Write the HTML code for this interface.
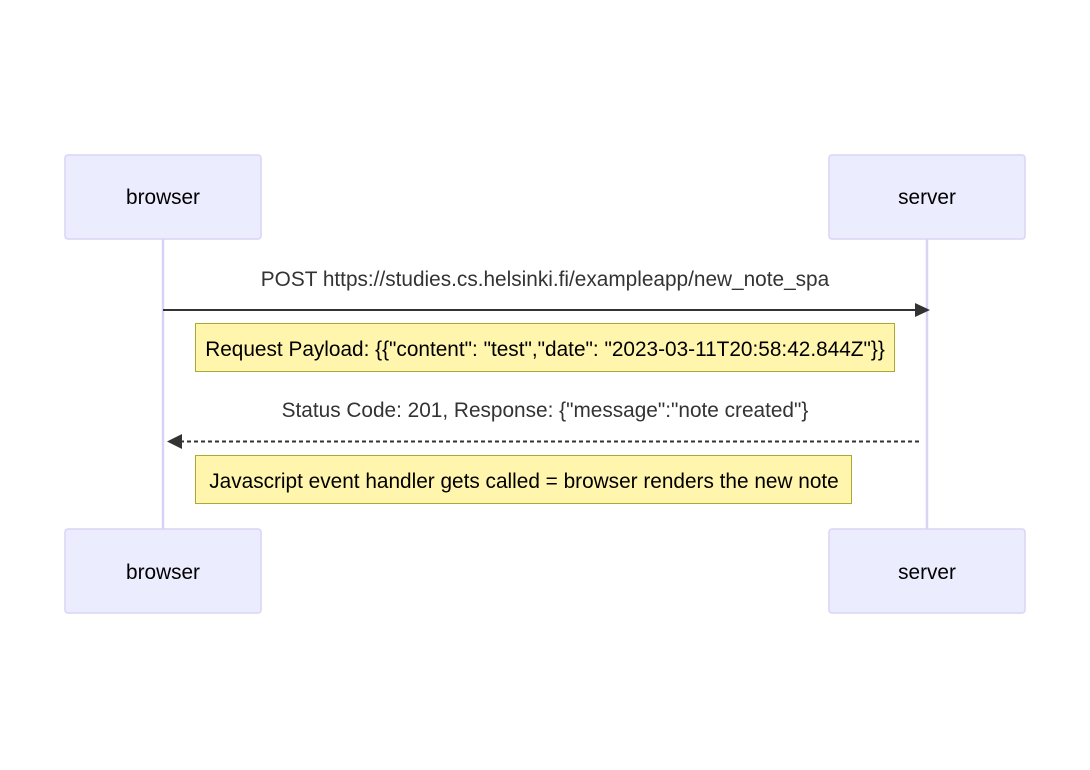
<!DOCTYPE html>
<html><head><style>html,body{margin:0;padding:0;background:#fff;}svg{display:block}</style></head>
<body>
<svg width="1090" height="770" viewBox="0 0 1090 770" xmlns="http://www.w3.org/2000/svg" font-family="Liberation Sans, Arial, sans-serif">
<line x1="163" y1="239" x2="163" y2="529" stroke="#d9d4f5" stroke-width="2.5"/>
<line x1="927" y1="239" x2="927" y2="529" stroke="#d9d4f5" stroke-width="2.5"/>
<rect x="65" y="155" width="196" height="84" rx="3" fill="#ECECFF" stroke="#d9d4f5" stroke-width="1.5"/>
<rect x="829" y="155" width="196" height="84" rx="3" fill="#ECECFF" stroke="#d9d4f5" stroke-width="1.5"/>
<rect x="65" y="529" width="196" height="84" rx="3" fill="#ECECFF" stroke="#d9d4f5" stroke-width="1.5"/>
<rect x="829" y="529" width="196" height="84" rx="3" fill="#ECECFF" stroke="#d9d4f5" stroke-width="1.5"/>
<g font-size="20.8" fill="#000" text-anchor="middle">
<text x="163" y="204">browser</text><text x="927" y="204">server</text>
<text x="163" y="579">browser</text><text x="927" y="579">server</text>
</g>
<text x="545" y="286" font-size="20.8" fill="#333" text-anchor="middle">POST https://studies.cs.helsinki.fi/exampleapp/new_note_spa</text>
<line x1="163" y1="310" x2="916" y2="310" stroke="#333" stroke-width="2"/>
<polygon points="915,303 930,310 915,317" fill="#333"/>
<rect x="195.5" y="323.5" width="699" height="48" fill="#fff5ad" stroke="#aaaa33"/>
<text x="545" y="356" font-size="20.8" fill="#000" text-anchor="middle">Request Payload: {{"content": "test","date": "2023-03-11T20:58:42.844Z"}}</text>
<text x="545" y="417" font-size="20.8" fill="#333" text-anchor="middle">Status Code: 201, Response: {"message":"note created"}</text>
<line x1="180" y1="441.5" x2="921" y2="441.5" stroke="#333" stroke-width="2" stroke-dasharray="4,3"/>
<polygon points="182,434 167,441.5 182,449" fill="#333"/>
<rect x="195.5" y="455.5" width="656" height="48" fill="#fff5ad" stroke="#aaaa33"/>
<text x="524" y="488" font-size="20.8" fill="#000" text-anchor="middle">Javascript event handler gets called = browser renders the new note</text>
</svg>
</body></html>
